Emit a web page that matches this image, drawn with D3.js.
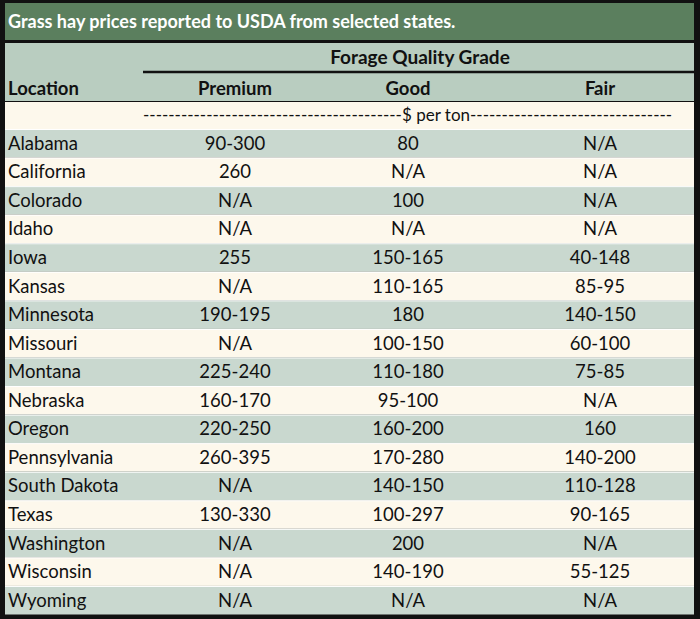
<!DOCTYPE html>
<html><head><meta charset="utf-8">
<script src="https://cdn.jsdelivr.net/npm/d3@7"></script>
<style>html,body{margin:0;padding:0;background:#fff;}svg{display:block;}</style>
</head><body><svg id="c" width="700" height="619"></svg>
<script>
const title = "Grass hay prices reported to USDA from selected states.";
const groupLabel = "Forage Quality Grade";
const locationLabel = "Location";
const grades = ["Premium", "Good", "Fair"];
const unitLabel = "-----------------------------------------$ per ton--------------------------------";
const locations = ["Alabama","California","Colorado","Idaho","Iowa","Kansas","Minnesota","Missouri","Montana","Nebraska","Oregon","Pennsylvania","South Dakota","Texas","Washington","Wisconsin","Wyoming"];
const premium = ["90-300","260","N/A","N/A","255","N/A","190-195","N/A","225-240","160-170","220-250","260-395","N/A","130-330","N/A","N/A","N/A"];
const good = ["80","N/A","100","N/A","150-165","110-165","180","100-150","110-180","95-100","160-200","170-280","140-150","100-297","200","140-190","N/A"];
const fair = ["N/A","N/A","N/A","N/A","40-148","85-95","140-150","60-100","75-85","N/A","160","140-200","110-128","90-165","N/A","55-125","N/A"];

const W = 700, H = 619;
const font = "Lato, 'Open Sans', sans-serif";
const svg = d3.select("#c");
const green = "#5b7f5e", hdr = "#b9cdc0", rowA = "#c9d8cf", rowB = "#fdf8ec";
const L = 5, R = 694;
const fs = 18.5;

svg.append("rect").attr("x",0).attr("y",0).attr("width",W).attr("height",H).attr("fill","#111");
// title
svg.append("rect").attr("x",L).attr("y",3).attr("width",R-L).attr("height",37).attr("fill",green);
svg.append("text").attr("x",8).attr("y",28).attr("fill","#fff").attr("font-family",font)
  .attr("font-weight","bold").attr("font-size",18).text(title);
// header
svg.append("rect").attr("x",L).attr("y",43).attr("width",R-L).attr("height",58).attr("fill",hdr);
svg.append("line").attr("x1",143).attr("x2",R).attr("y1",72).attr("y2",72).attr("stroke","#111").attr("stroke-width",2.5);
svg.append("text").attr("x",420).attr("y",64).attr("text-anchor","middle").attr("font-family",font)
  .attr("font-weight","bold").attr("font-size",19).attr("fill","#111").text(groupLabel);
svg.append("text").attr("x",8).attr("y",95).attr("font-family",font)
  .attr("font-weight","bold").attr("font-size",fs).attr("fill","#111").text(locationLabel);

const xCol = d3.scaleOrdinal().domain(grades).range([235, 408, 600]);
svg.selectAll("text.grade").data(grades).join("text").attr("class","grade")
  .attr("x",d=>xCol(d)).attr("y",95).attr("text-anchor","middle").attr("font-family",font)
  .attr("font-weight","bold").attr("font-size",fs).attr("fill","#111").text(d=>d);

// unit row
svg.append("rect").attr("x",L).attr("y",102).attr("width",R-L).attr("height",27).attr("fill",rowB);
svg.append("text").attr("x",143).attr("y",121).attr("font-family",font)
  .attr("font-size",17).attr("fill","#111").text(unitLabel);

// data rows
const y = d3.scaleBand().domain(locations).range([129, 614.5]);
const rows = svg.selectAll("g.row").data(locations).join("g").attr("class","row")
  .attr("transform",d=>`translate(0,${y(d)})`);
rows.append("rect").attr("x",L).attr("y",0).attr("width",R-L).attr("height",y.bandwidth())
  .attr("fill",(d,i)=> i%2===0 ? rowA : rowB);
rows.append("line").attr("x1",L).attr("x2",R).attr("y1",0.5).attr("y2",0.5).attr("stroke","#fff").attr("stroke-width",1);
const ty = y.bandwidth()/2 + 6.5;
rows.append("text").attr("x",8).attr("y",ty).attr("font-family",font).attr("font-size",fs).attr("fill","#111").text(d=>d);
const cols = [premium, good, fair];
grades.forEach((g,gi)=>{
  rows.append("text").attr("x",xCol(g)).attr("y",ty).attr("text-anchor","middle")
    .attr("font-family",font).attr("font-size",fs).attr("fill","#111").text((d,i)=>cols[gi][i]);
});
</script></body></html>
